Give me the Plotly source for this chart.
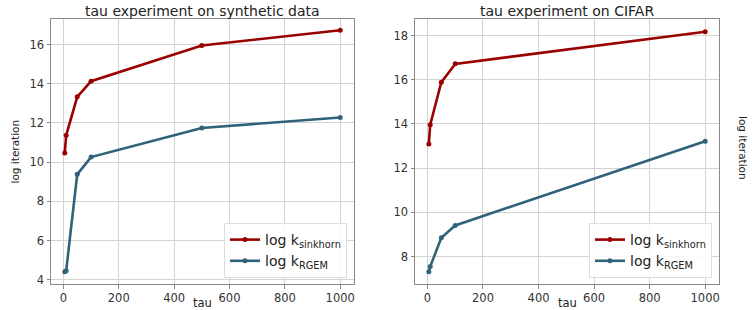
import plotly.graph_objects as go

tau_syn = [5, 10, 50, 100, 500, 1000]
sinkhorn_syn = [10.47, 11.37, 13.33, 14.13, 15.95, 16.73]
rgem_syn = [4.41, 4.46, 9.38, 10.26, 11.74, 12.28]

tau_cifar = [5, 10, 50, 100, 1000]
sinkhorn_cifar = [13.09, 13.97, 15.89, 16.72, 18.17]
rgem_cifar = [7.31, 7.55, 8.85, 9.41, 13.22]

titles = ["tau experiment on synthetic data", "tau experiment on CIFAR"]
x_ticks = [0, 200, 400, 600, 800, 1000]
RED = "#9A0000"
BLUE = "#30627A"
FONT = "DejaVu Sans"
W, H = 752, 310

fig = go.Figure()

def add(x, y, name, color, xa, ya, leg):
    fig.add_trace(go.Scatter(
        x=x, y=y, mode="lines+markers", name=name,
        line=dict(color=color, width=2.6),
        marker=dict(color=color, size=5),
        xaxis=xa, yaxis=ya, legend=leg))

add(tau_syn, sinkhorn_syn, "log k<sub>sinkhorn</sub>", RED, "x", "y", "legend")
add(tau_syn, rgem_syn, "log k<sub>RGEM</sub>", BLUE, "x", "y", "legend")
add(tau_cifar, sinkhorn_cifar, "log k<sub>sinkhorn</sub>", RED, "x2", "y2", "legend2")
add(tau_cifar, rgem_cifar, "log k<sub>RGEM</sub>", BLUE, "x2", "y2", "legend2")

axis_common = dict(
    showgrid=True, gridcolor="#d3d3d3", gridwidth=1,
    showline=True, linecolor="#888888", linewidth=1, mirror=True,
    ticks="outside", ticklen=3.5, tickcolor="#888888",
    tickfont=dict(family=FONT, size=11.5, color="#333333"),
    zeroline=False, automargin=False,
)

yb, yt = (H - 284) / H, (H - 19) / H
legend_common = dict(yanchor="bottom", xanchor="right", y=(H - 278) / H,
                     bgcolor="rgba(255,255,255,0.85)", bordercolor="#dddddd", borderwidth=1,
                     font=dict(family=FONT, size=14, color="#222222"), tracegroupgap=0)
fig.update_layout(
    width=W, height=H,
    margin=dict(l=0, r=0, t=0, b=0),
    paper_bgcolor="white", plot_bgcolor="white",
    font=dict(family=FONT, color="#222222"),
    xaxis=dict(domain=[51 / W, 354 / W], range=[-44.75, 1049.75], tickvals=x_ticks,
               anchor="y", **axis_common),
    yaxis=dict(domain=[yb, yt], range=[3.79, 17.3], dtick=2, anchor="x", **axis_common),
    xaxis2=dict(domain=[415 / W, 719 / W], range=[-44.75, 1049.75], tickvals=x_ticks,
                anchor="y2", **axis_common),
    yaxis2=dict(domain=[yb, yt], range=[6.76, 18.75], dtick=2, anchor="x2", **axis_common),
    legend=dict(x=347 / W, **legend_common),
    legend2=dict(x=712 / W, **legend_common),
)

def note(text, x, y, size, angle=0):
    fig.add_annotation(text=text, x=x / W, y=1 - y / H, xref="paper", yref="paper",
                       xanchor="center", yanchor="middle", showarrow=False, textangle=angle,
                       font=dict(family=FONT, size=size, color="#222222"))

note(titles[0], (51 + 354) / 2, 11, 14)
note(titles[1], (415 + 719) / 2, 11, 14)
note("tau", (51 + 354) / 2, 303, 11.5)
note("tau", (415 + 719) / 2, 303, 11.5)
note("log iteration", 14, (19 + 284) / 2, 10.5, -90)
note("log iteration", 743, 148, 10.5, 90)

fig.write_html("out.html", config={"displayModeBar": False},
               post_script="document.body.style.margin='0px';document.body.style.overflow='hidden';")
